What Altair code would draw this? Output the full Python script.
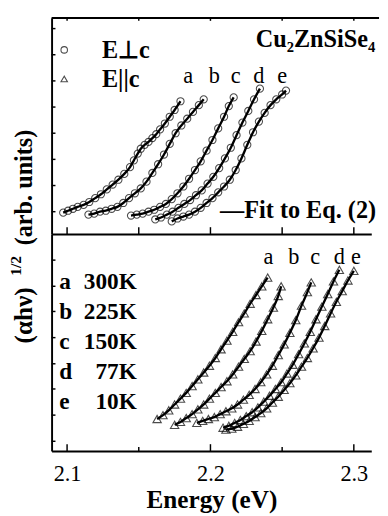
import altair as alt
import pandas as pd

FONT = "Liberation Serif"

# ---------------- data: top panel (E ⊥ c), open circles ----------------
top_a_E = [2.0973, 2.1007, 2.1041, 2.1074, 2.1115, 2.1155, 2.1196, 2.1236, 2.1277, 2.1318, 2.1358, 2.1399, 2.1439,
           2.1466, 2.1493, 2.1514, 2.1541, 2.1568, 2.1595, 2.1622, 2.1649, 2.1682, 2.1716, 2.1750, 2.1791]
top_a_v = [22, 24, 26, 28, 30, 33, 37, 41, 46, 51, 56, 62, 69, 76, 83, 88, 92, 95, 99, 103, 108, 114, 121, 128, 137]

top_b_E = [2.1149, 2.1189, 2.1230, 2.1270, 2.1311, 2.1351, 2.1392, 2.1432, 2.1473, 2.1514, 2.1554, 2.1595, 2.1635,
           2.1676, 2.1716, 2.1757, 2.1797, 2.1838, 2.1878, 2.1919, 2.1953]
top_b_v = [20, 21, 23, 24, 26, 28, 32, 37, 42, 47, 54, 63, 72, 82, 93, 104, 112, 119, 126, 133, 139]

top_c_E = [2.1446, 2.1486, 2.1527, 2.1568, 2.1608, 2.1649, 2.1689, 2.1730, 2.1770, 2.1811, 2.1851, 2.1892, 2.1932,
           2.1973, 2.2014, 2.2054, 2.2095, 2.2128, 2.2162]
top_c_v = [19, 20, 21, 23, 25, 28, 31, 36, 42, 49, 57, 66, 75, 86, 97, 109, 121, 132, 141]

top_d_E = [2.1615, 2.1655, 2.1696, 2.1736, 2.1777, 2.1818, 2.1858, 2.1899, 2.1939, 2.1980, 2.2020, 2.2061, 2.2101,
           2.2142, 2.2182, 2.2223, 2.2264, 2.2304, 2.2345]
top_d_v = [15, 17, 20, 23, 27, 31, 35, 40, 45, 52, 59, 68, 78, 89, 102, 115, 127, 139, 150]

top_e_E = [2.1730, 2.1770, 2.1811, 2.1851, 2.1892, 2.1932, 2.1973, 2.2014, 2.2054, 2.2095, 2.2135, 2.2176, 2.2216,
           2.2257, 2.2297, 2.2338, 2.2378, 2.2419, 2.2459, 2.2500, 2.2527]
top_e_v = [13, 16, 18, 20, 23, 27, 32, 37, 43, 49, 56, 66, 78, 92, 105, 116, 125, 133, 139, 144, 148]

# ---------------- data: bottom panel (E || c), open triangles ----------------
bot_a_E = [2.1628, 2.1669, 2.1709, 2.1750, 2.1791, 2.1831, 2.1872, 2.1912, 2.1953, 2.1993, 2.2034, 2.2074, 2.2115,
           2.2155, 2.2196, 2.2236, 2.2277, 2.2318, 2.2358, 2.2399]
bot_a_v = [33, 37, 42, 48, 54, 60, 67, 74, 81, 88, 96, 105, 114, 123, 133, 142, 152, 161, 170, 179]

bot_b_E = [2.1750, 2.1791, 2.1831, 2.1872, 2.1912, 2.1953, 2.1993, 2.2034, 2.2074, 2.2115, 2.2155, 2.2196, 2.2236,
           2.2277, 2.2318, 2.2358, 2.2399, 2.2439, 2.2473, 2.2493]
bot_b_v = [27, 30, 34, 38, 43, 48, 54, 60, 66, 72, 79, 87, 95, 103, 113, 124, 136, 148, 160, 170]

bot_c_E = [2.1905, 2.1946, 2.1986, 2.2027, 2.2068, 2.2108, 2.2149, 2.2189, 2.2230, 2.2270, 2.2311, 2.2351, 2.2392,
           2.2432, 2.2473, 2.2514, 2.2554, 2.2595, 2.2635, 2.2676, 2.2703]
bot_c_v = [29, 31, 33, 35, 38, 41, 44, 48, 53, 58, 64, 71, 79, 88, 99, 110, 122, 135, 150, 164, 174]

bot_d_E = [2.2088, 2.2128, 2.2169, 2.2209, 2.2250, 2.2291, 2.2331, 2.2372, 2.2412, 2.2453, 2.2493, 2.2534, 2.2574,
           2.2615, 2.2655, 2.2696, 2.2736, 2.2777, 2.2818, 2.2858, 2.2899]
bot_d_v = [24, 26, 29, 32, 36, 40, 45, 51, 57, 64, 71, 80, 89, 100, 111, 123, 136, 149, 162, 175, 187]

bot_e_E = [2.2108, 2.2149, 2.2189, 2.2230, 2.2270, 2.2311, 2.2351, 2.2392, 2.2432, 2.2473, 2.2514, 2.2554, 2.2595,
           2.2635, 2.2676, 2.2716, 2.2757, 2.2797, 2.2838, 2.2878, 2.2919, 2.2959, 2.3000]
bot_e_v = [22, 23, 25, 28, 31, 35, 39, 44, 50, 56, 63, 70, 78, 87, 96, 106, 117, 129, 142, 154, 165, 176, 186]

# ---------------- labels / ticks ----------------
curve_letters = ["a", "b", "c", "d", "e"]
top_letter_E = [2.1845, 2.2027, 2.2176, 2.2338, 2.2500]
bot_letter_E = [2.2405, 2.2581, 2.2730, 2.2899, 2.3014]
temps = ["300K", "225K", "150K", "77K", "10K"]
temp_v = [174, 143, 112, 81, 50]
x_major = [2.1, 2.2, 2.3]
x_minor = [2.15, 2.25]
top_ytick_v = [23, 50, 77, 104, 131, 158, 185, 212]
bot_ytick_v = [10, 37, 64, 90, 117, 144, 170, 197]

W = 330
H_TOP = 223
H_BOT = 224
XDOM = [2.0892, 2.0892 + W / 1480]


def frame(curves):
    rows = []
    for name, (E, v) in curves.items():
        for e, val in zip(E, v):
            rows.append({"E": e, "v": val, "curve": name})
    return pd.DataFrame(rows)


top_df = frame({"a": (top_a_E, top_a_v), "b": (top_b_E, top_b_v), "c": (top_c_E, top_c_v),
                "d": (top_d_E, top_d_v), "e": (top_e_E, top_e_v)})
bot_df = frame({"a": (bot_a_E, bot_a_v), "b": (bot_b_E, bot_b_v), "c": (bot_c_E, bot_c_v),
                "d": (bot_d_E, bot_d_v), "e": (bot_e_E, bot_e_v)})

xscale = alt.Scale(domain=XDOM, nice=False, zero=False)
plain_x_axis = alt.Axis(labels=False, ticks=False, grid=False, title=None, domainColor="black", domainWidth=2)
y_axis = alt.Axis(labels=False, ticks=False, grid=False, title=None, domainColor="black", domainWidth=2)


def X(axis):
    return alt.X("E:Q", scale=xscale, axis=axis)


def Y(h):
    return alt.Y("v:Q", scale=alt.Scale(domain=[0, h], nice=False, zero=False), axis=y_axis)


bottom_axis = alt.Axis(values=x_major, format=".1f", labels=True, ticks=False, grid=False,
                       domainColor="black", domainWidth=2, labelFont=FONT, labelFontSize=23,
                       labelColor="black", labelPadding=12, labelFlush=False,
                       title="Energy (eV)", titleFont=FONT, titleFontSize=26, titleFontWeight="bold",
                       titleColor="black", titleY=58, titleBaseline="alphabetic")


def panel(df, h, shape, xaxis, ytick_v, xticks_bottom):
    lines = alt.Chart(df).mark_line(color="black", strokeWidth=2.4, interpolate="monotone").encode(
        x=X(xaxis), y=Y(h), detail="curve:N")
    pts = alt.Chart(df).mark_point(shape=shape, filled=False, color="black", strokeWidth=1.1,
                                   size=55 if shape == "circle" else 75).encode(
        x=X(xaxis), y=Y(h), detail="curve:N")
    yt = alt.Chart(pd.DataFrame({"v": ytick_v})).mark_rule(color="black", strokeWidth=1.5).encode(
        y=Y(h), x=alt.value(0), x2=alt.value(4))
    layers = [lines, pts, yt]
    for vals, ln in xticks_bottom:
        layers.append(alt.Chart(pd.DataFrame({"E": vals})).mark_rule(color="black", strokeWidth=1.5).encode(
            x=X(xaxis), y=alt.value(h), y2=alt.value(h - ln)))
    return layers


# ---------- top panel ----------
top_layers = panel(top_df, H_TOP, "circle", plain_x_axis, top_ytick_v,
                   [(x_major + x_minor, 7)])
top_layers.append(alt.Chart(pd.DataFrame({"E": x_major + x_minor})).mark_rule(color="black", strokeWidth=1.5).encode(
    x=X(plain_x_axis), y=alt.value(0), y2=alt.value(3)))
top_layers.append(alt.Chart(pd.DataFrame({"k": [0]})).mark_rule(color="black", strokeWidth=2).encode(
    x=alt.value(0), x2=alt.value(W + 8), y=alt.value(0)))

legend_sym = pd.DataFrame({"E": [2.0980], "v": [190]})
top_layers.append(alt.Chart(legend_sym).mark_point(shape="circle", filled=False, color="black",
                                                   strokeWidth=1.1, size=45).encode(x=X(plain_x_axis), y=Y(H_TOP)))
legend_sym2 = pd.DataFrame({"E": [2.0980], "v": [160]})
top_layers.append(alt.Chart(legend_sym2).mark_point(shape="triangle-up", filled=False, color="black",
                                                    strokeWidth=1.1, size=45).encode(x=X(plain_x_axis), y=Y(H_TOP)))
top_text = pd.DataFrame({"E": [2.1243, 2.1243], "v": [190, 160], "t": ["E⊥c", "E||c"]})
top_layers.append(alt.Chart(top_text).mark_text(font=FONT, fontSize=25, fontWeight="bold", align="left",
                                                baseline="middle", color="black").encode(
    x=X(plain_x_axis), y=Y(H_TOP), text="t:N"))
right_text = pd.DataFrame({"E": [2.3149, 2.3155], "v": [201, 25], "t": ["Cu₂ZnSiSe₄", "—Fit to Eq. (2)"]})
top_layers.append(alt.Chart(right_text).mark_text(font=FONT, fontSize=25, fontWeight="bold", align="right",
                                                  baseline="middle", color="black").encode(
    x=X(plain_x_axis), y=Y(H_TOP), text="t:N"))
top_letters = pd.DataFrame({"E": top_letter_E, "v": [163] * 5, "t": curve_letters})
top_layers.append(alt.Chart(top_letters).mark_text(font=FONT, fontSize=23, align="center",
                                                   baseline="middle", color="black").encode(
    x=X(plain_x_axis), y=Y(H_TOP), text="t:N"))

top = alt.layer(*top_layers).properties(width=W, height=H_TOP)

# ---------- bottom panel ----------
bot_layers = panel(bot_df, H_BOT, "triangle-up", bottom_axis, bot_ytick_v,
                   [(x_major, 7), (x_minor, 4)])
bot_letters = pd.DataFrame({"E": bot_letter_E, "v": [200] * 5, "t": curve_letters})
bot_layers.append(alt.Chart(bot_letters).mark_text(font=FONT, fontSize=23, align="center",
                                                   baseline="middle", color="black").encode(
    x=X(bottom_axis), y=Y(H_BOT), text="t:N"))
leg_l = pd.DataFrame({"E": [2.0946] * 5, "v": temp_v, "t": curve_letters})
bot_layers.append(alt.Chart(leg_l).mark_text(font=FONT, fontSize=24, fontWeight="bold", align="left",
                                             baseline="middle", color="black").encode(
    x=X(bottom_axis), y=Y(H_BOT), text="t:N"))
leg_r = pd.DataFrame({"E": [2.1486] * 5, "v": temp_v, "t": temps})
bot_layers.append(alt.Chart(leg_r).mark_text(font=FONT, fontSize=24, fontWeight="bold", align="right",
                                             baseline="middle", color="black").encode(
    x=X(bottom_axis), y=Y(H_BOT), text="t:N"))

# y-axis label: (αhν)^1/2 (arb. units)
for txt, xx, yy, fs in [("(αhν)", -28, 84, 26), ("1/2", -37, 33, 16), ("(arb. units)", -28, -48, 25)]:
    bot_layers.append(alt.Chart(pd.DataFrame({"t": [txt]})).mark_text(
        font=FONT, fontSize=fs, fontWeight="bold", angle=270, align="center", baseline="middle",
        color="black").encode(text="t:N", x=alt.value(xx), y=alt.value(yy)))

bottom = alt.layer(*bot_layers).properties(width=W, height=H_BOT)

chart = alt.vconcat(top, bottom, spacing=0, bounds="flush").properties(
    padding={"left": 0, "top": 1, "right": 0, "bottom": 0},
    background="white",
).configure_view(stroke=None)

chart.save("out.html", embed_options={"renderer": "svg", "actions": False})
